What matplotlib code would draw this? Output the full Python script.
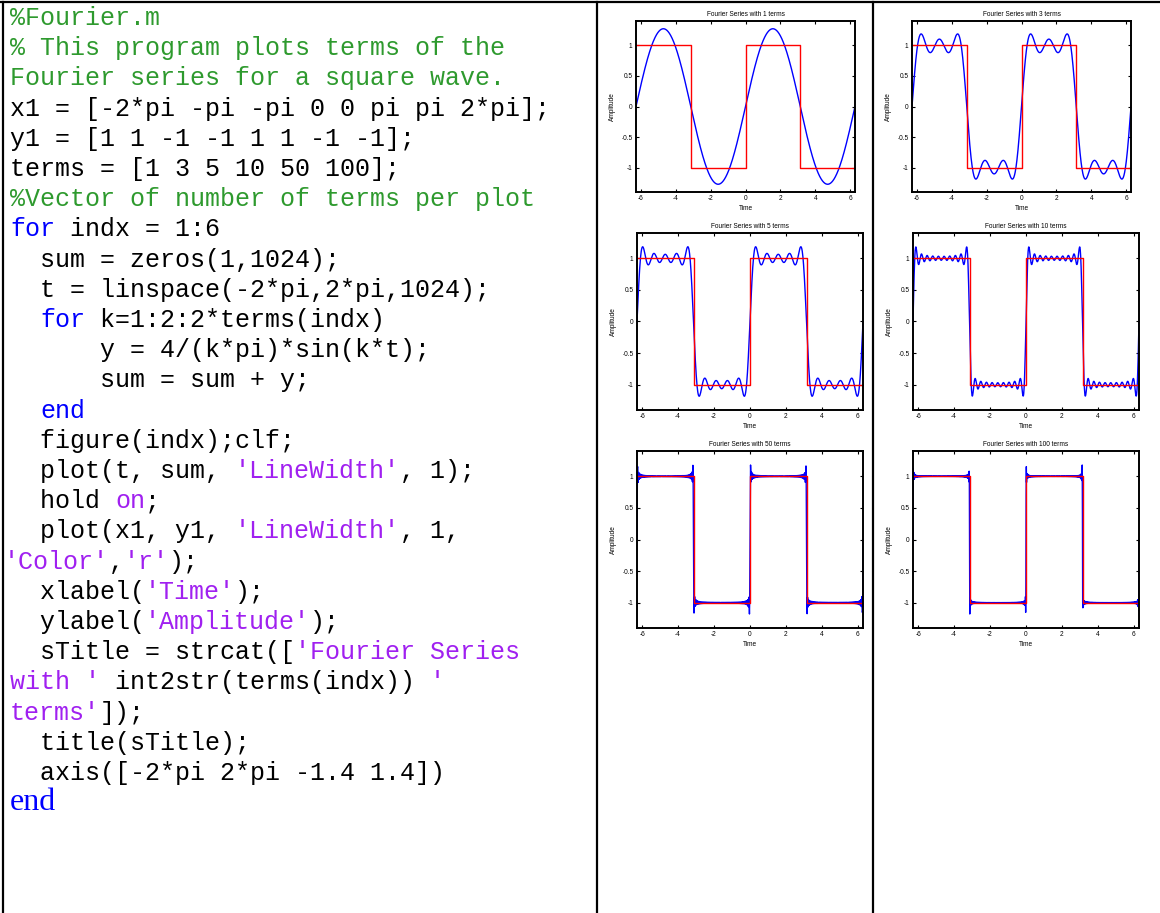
import numpy as np
import matplotlib
matplotlib.use("Agg")
import matplotlib.pyplot as plt
from matplotlib.lines import Line2D

W, H = 1160, 913

# square wave corners, from the listing
x1 = [-2 * np.pi, -np.pi, -np.pi, 0, 0, np.pi, np.pi, 2 * np.pi]
y1 = [1, 1, -1, -1, 1, 1, -1, -1]
terms = [1, 3, 5, 10, 50, 100]
n_samples = 1024

x_ticks = [-6, -4, -2, 0, 2, 4, 6]
y_ticks = [-1, -0.5, 0, 0.5, 1]
y_tick_labels = ["-1", "-0.5", "0", "0.5", "1"]

# code listing: each line is a list of (text, kind)
code_lines = [
    [("%Fourier.m", "c")],
    [("% This program plots terms of the", "c")],
    [("Fourier series for a square wave.", "c")],
    [("x1 = [-2*pi -pi -pi 0 0 pi pi 2*pi];", "k")],
    [("y1 = [1 1 -1 -1 1 1 -1 -1];", "k")],
    [("terms = [1 3 5 10 50 100];", "k")],
    [("%Vector of number of terms per plot", "c")],
    [("for", "b"), (" indx = 1:6", "k")],
    [("  sum = zeros(1,1024);", "k")],
    [("  t = linspace(-2*pi,2*pi,1024);", "k")],
    [("  ", "k"), ("for", "b"), (" k=1:2:2*terms(indx)", "k")],
    [("      y = 4/(k*pi)*sin(k*t);", "k")],
    [("      sum = sum + y;", "k")],
    [("  ", "k"), ("end", "b")],
    [("  figure(indx);clf;", "k")],
    [("  plot(t, sum, ", "k"), ("'LineWidth'", "s"), (", 1);", "k")],
    [("  hold ", "k"), ("on", "s"), (";", "k")],
    [("  plot(x1, y1, ", "k"), ("'LineWidth'", "s"), (", 1,", "k")],
    [("'Color'", "s"), (",", "k"), ("'r'", "s"), (");", "k")],
    [("  xlabel(", "k"), ("'Time'", "s"), (");", "k")],
    [("  ylabel(", "k"), ("'Amplitude'", "s"), (");", "k")],
    [("  sTitle = strcat([", "k"), ("'Fourier Series", "s")],
    [("with '", "s"), (" int2str(terms(indx)) ", "k"), ("'", "s")],
    [("terms'", "s"), ("]);", "k")],
    [("  title(sTitle);", "k")],
    [("  axis([-2*pi 2*pi -1.4 1.4])", "k")],
]
last_line = "end"

kind_colors = {"c": "#2E9A2E", "k": "black", "b": "#0000FF", "s": "#A020F0"}

plt.rcParams["axes.unicode_minus"] = False

fig = plt.figure(figsize=(W / 100, H / 100), dpi=100)
fig.patch.set_facecolor("white")


def fx(px):
    return px / W


def fy(py):
    return 1 - py / H


# --- table borders ---
border_kw = dict(color="black", linewidth=1.6, transform=fig.transFigure)
fig.add_artist(Line2D([0, 1], [fy(2.5), fy(2.5)], **border_kw))
for xb in [3, 597, 873]:
    fig.add_artist(Line2D([fx(xb), fx(xb)], [fy(2.5), 0], **border_kw))

# --- code listing ---
code_size = 18
char_w = 0.6 * code_size * 100 / 72
x0 = 10
base0 = 25
line_step = 30.2
for i, segs in enumerate(code_lines):
    yb = base0 + i * line_step
    xs = x0 - 6 if segs[0][0].startswith("'") else x0
    col = 0
    for txt, kind in segs:
        fig.text(fx(xs + col * char_w), fy(yb), txt, family="Liberation Mono",
                 fontsize=code_size, color=kind_colors[kind], va="baseline", ha="left")
        col += len(txt)
fig.text(fx(x0), fy(base0 + len(code_lines) * line_step), last_line,
         family="Liberation Serif", fontsize=23, color=kind_colors["b"],
         va="baseline", ha="left")

# --- plot panels (left, right, top, bottom in pixels) ---
panels = [
    (636, 855, 21, 192), (912, 1131, 21, 192),
    (637, 863, 233, 410), (913, 1139, 233, 410),
    (637, 863, 451, 628), (913, 1139, 451, 628),
]

t = np.linspace(-2 * np.pi, 2 * np.pi, n_samples)
small = 4.7
for (l, r, tp, b), nterm in zip(panels, terms):
    ax = fig.add_axes([fx(l), fy(b), (r - l) / W, (b - tp) / H])
    s = np.zeros(n_samples)
    for k in range(1, 2 * nterm, 2):
        s = s + 4 / (k * np.pi) * np.sin(k * t)
    ax.plot(t, s, color="#0000FF", linewidth=1.0)
    ax.plot(x1, y1, color="#FF0000", linewidth=1.0)
    ax.set_xlim(-2 * np.pi, 2 * np.pi)
    ax.set_ylim(-1.4, 1.4)
    ax.set_xticks(x_ticks)
    ax.set_yticks(y_ticks)
    ax.set_yticklabels(y_tick_labels)
    ax.tick_params(direction="in", top=True, right=True, length=2.5, width=0.8,
                   labelsize=small, pad=2.5)
    for sp in ax.spines.values():
        sp.set_linewidth(1.4)
    ax.set_xlabel("Time", fontsize=small, labelpad=1.5)
    ax.set_ylabel("Amplitude", fontsize=small, labelpad=4)
    ax.set_title(f"Fourier Series with {nterm} terms", fontsize=small, pad=3.5)
    for lab in ax.get_xticklabels() + ax.get_yticklabels():
        lab.set_family("Liberation Sans")
    ax.xaxis.label.set_family("Liberation Sans")
    ax.yaxis.label.set_family("Liberation Sans")
    ax.title.set_family("Liberation Sans")

fig.savefig("out.png", dpi=100)
